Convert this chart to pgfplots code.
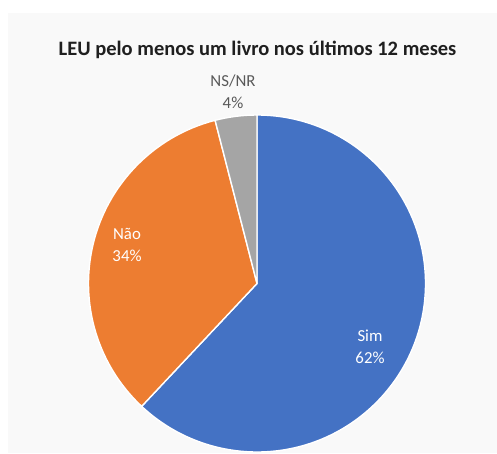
\documentclass[border=0pt]{standalone}
\usepackage{pgfplots}
\pgfplotsset{compat=1.18}
\usepackage{fontspec}
\setmainfont{Carlito}
\definecolor{simblue}{HTML}{4472C4}
\definecolor{naoorange}{HTML}{ED7D31}
\definecolor{nsgray}{HTML}{A5A5A5}
\definecolor{bgcol}{HTML}{F9F9F9}
\definecolor{lblgray}{HTML}{595959}
% values (percent)
\def\vSim{62}
\def\vNao{34}
\def\vNS{4}
\pgfmathsetmacro{\aA}{90}
\pgfmathsetmacro{\aB}{90-3.6*\vSim}
\pgfmathsetmacro{\aC}{\aB-3.6*\vNao}
\pgfmathsetmacro{\aD}{\aC-3.6*\vNS}
\begin{document}
\begin{tikzpicture}
\begin{axis}[
  scale only axis, width=497pt, height=453pt,
  xmin=0, xmax=497, ymin=-453, ymax=0,
  axis lines=none, clip=true,
]
\fill[bgcol] (axis cs:8,-13) rectangle (axis cs:497,-453);
\filldraw[fill=simblue,draw=white,line width=1.4pt,line join=round]
  (axis cs:257,-283.5) -- ++(\aA:168.5pt) arc[start angle=\aA,end angle=\aB,radius=168.5pt] -- cycle;
\filldraw[fill=naoorange,draw=white,line width=1.4pt,line join=round]
  (axis cs:257,-283.5) -- ++(\aB:168.5pt) arc[start angle=\aB,end angle=\aC,radius=168.5pt] -- cycle;
\filldraw[fill=nsgray,draw=white,line width=1.4pt,line join=round]
  (axis cs:257,-283.5) -- ++(\aC:168.5pt) arc[start angle=\aC,end angle=\aD,radius=168.5pt] -- cycle;
\node[font=\bfseries\fontsize{20.5}{24}\selectfont, text=black!88] at (axis cs:257.5,-50) {LEU pelo menos um livro nos últimos 12 meses};
\node[font=\fontsize{16.8}{22}\selectfont, text=lblgray, align=center] at (axis cs:233,-91.5) {NS/NR\\\vNS\%};
\node[font=\fontsize{16.8}{22}\selectfont, text=white, align=center] at (axis cs:127,-245) {Não\\\vNao\%};
\node[font=\fontsize{16.8}{22}\selectfont, text=white, align=center] at (axis cs:370,-346.5) {Sim\\\vSim\%};
\end{axis}
\pgfresetboundingbox
\useasboundingbox (0,0) rectangle (497pt,453pt);
\end{tikzpicture}
\end{document}
